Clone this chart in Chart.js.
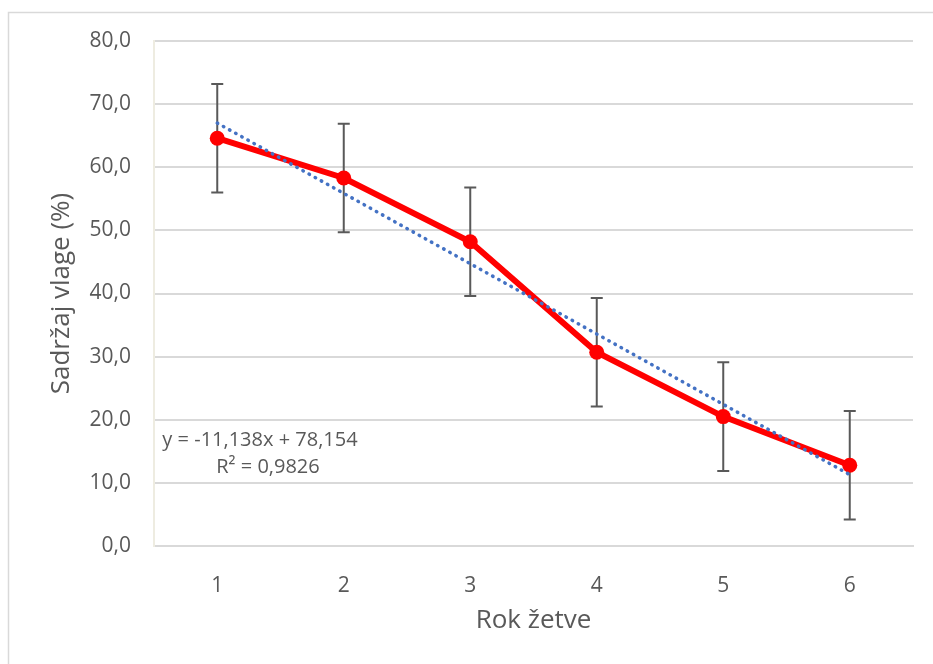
<!DOCTYPE html>
<html>
<head>
<meta charset="utf-8">
<script src="https://cdn.jsdelivr.net/npm/chart.js@4/dist/chart.umd.min.js"></script>
<style>
  body { margin: 0; background: #fff; }
  canvas { display: block; }
</style>
</head>
<body>
<canvas id="grafik" width="933" height="664"></canvas>
<script>
// Podaci
const rokovi = [1, 2, 3, 4, 5, 6];
const vlaga = [64.6, 58.3, 48.2, 30.7, 20.5, 12.8];
const greska = [8.6, 8.6, 8.6, 8.6, 8.6, 8.6];
const trendX = [1, 6];
const trendY = [67.0, 11.3];
const yTicks = [0, 10, 20, 30, 40, 50, 60, 70, 80];
const jednadzba = ['y = -11,138x + 78,154', 'R² = 0,9826'];

const siva = '#595959';
const font = '"Open Sans", sans-serif';

// okvir i bijela pozadina
const okvir = {
  id: 'okvir',
  beforeDraw(chart) {
    const ctx = chart.ctx;
    ctx.save();
    ctx.fillStyle = '#fff';
    ctx.fillRect(0, 0, chart.width, chart.height);
    ctx.strokeStyle = '#d9d9d9';
    ctx.lineWidth = 1.5;
    ctx.strokeRect(8.5, 12.5, chart.width + 20, chart.height + 20);
    ctx.restore();
  }
};

// error barovi ispod serije
const errorBarovi = {
  id: 'errorBarovi',
  beforeDatasetsDraw(chart) {
    const { ctx, scales: { x, y } } = chart;
    ctx.save();
    ctx.strokeStyle = siva;
    ctx.lineWidth = 2;
    rokovi.forEach((r, i) => {
      const px = x.getPixelForValue(r);
      const top = y.getPixelForValue(vlaga[i] + greska[i]);
      const bot = y.getPixelForValue(vlaga[i] - greska[i]);
      ctx.beginPath();
      ctx.moveTo(px, top);
      ctx.lineTo(px, bot);
      ctx.moveTo(px - 6, top);
      ctx.lineTo(px + 6, top);
      ctx.moveTo(px - 6, bot);
      ctx.lineTo(px + 6, bot);
      ctx.stroke();
    });
    ctx.restore();
  }
};

// tekst jednadžbe trenda
const oznakaTrenda = {
  id: 'oznakaTrenda',
  afterDraw(chart) {
    const ctx = chart.ctx;
    ctx.save();
    ctx.fillStyle = siva;
    ctx.font = '20px ' + font;
    ctx.textAlign = 'center';
    ctx.textBaseline = 'middle';
    ctx.fillText(jednadzba[0], 260, 440);
    ctx.fillText(jednadzba[1], 268, 467);
    ctx.restore();
  }
};

const ctx = document.getElementById('grafik').getContext('2d');

new Chart(ctx, {
  type: 'line',
  data: {
    datasets: [
      {
        data: trendX.map((v, i) => ({ x: v, y: trendY[i] })),
        borderColor: '#4472c4',
        borderWidth: 3.5,
        borderDash: [0.5, 6.5],
        borderCapStyle: 'round',
        pointRadius: 0,
        order: 0
      },
      {
        data: rokovi.map((v, i) => ({ x: v, y: vlaga[i] })),
        borderColor: '#ff0000',
        backgroundColor: '#ff0000',
        borderWidth: 6,
        pointRadius: 7.5,
        pointBorderWidth: 0,
        tension: 0,
        order: 1
      }
    ]
  },
  options: {
    responsive: false,
    animation: false,
    layout: { padding: { top: 41, right: 20, left: 0, bottom: 0 } },
    plugins: {
      legend: { display: false },
      tooltip: { enabled: false }
    },
    scales: {
      x: {
        type: 'linear',
        min: 0.5,
        max: 6.5,
        afterBuildTicks: s => { s.ticks = rokovi.map(v => ({ value: v })); },
        afterFit: s => { s.height = 118; },
        grid: { display: false },
        border: { color: '#d9d9d9', width: 2 },
        ticks: {
          color: siva,
          font: { family: font, size: 21 },
          padding: 19,
          maxRotation: 0
        },
        title: {
          display: true,
          text: 'Rok žetve',
          color: siva,
          font: { family: font, size: 26 },
          padding: { top: 0, bottom: 28 }
        }
      },
      y: {
        min: 0,
        max: 80,
        afterBuildTicks: s => { s.ticks = yTicks.map(v => ({ value: v })); },
        afterFit: s => { s.width = 154; },
        grid: { color: '#d9d9d9', lineWidth: 2, drawTicks: false },
        border: { color: '#eeece1', width: 2 },
        ticks: {
          color: siva,
          font: { family: font, size: 21 },
          padding: 23,
          callback: v => v.toFixed(1).replace('.', ',')
        },
        title: {
          display: true,
          text: 'Sadržaj vlage (%)',
          color: siva,
          font: { family: font, size: 26 },
          padding: { top: 46, bottom: 0 }
        }
      }
    }
  },
  plugins: [okvir, errorBarovi, oznakaTrenda]
});
</script>
</body>
</html>
